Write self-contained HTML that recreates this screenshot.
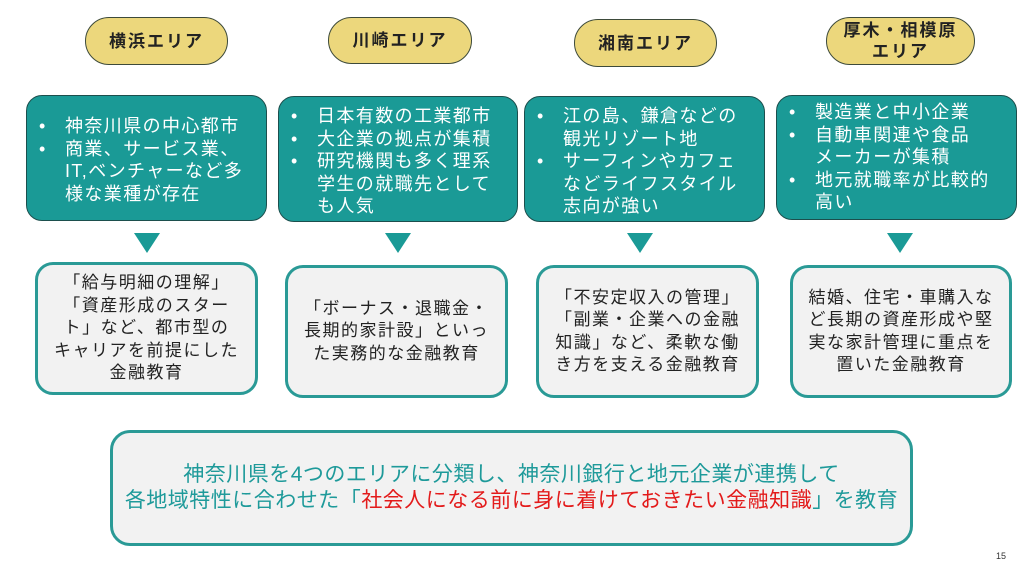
<!DOCTYPE html>
<html><head><meta charset="utf-8"><style>
body{margin:0;width:1024px;height:576px;background:#fff;position:relative;overflow:hidden;font-family:"Liberation Sans","Noto Sans CJK JP",sans-serif;}
.pill{position:absolute;background:#ecd77c;border:1.5px solid #3d4a3a;border-radius:26px;display:flex;align-items:center;justify-content:center;text-align:center;font-weight:bold;font-size:17px;color:#222;line-height:21px;letter-spacing:2px;box-sizing:border-box;white-space:nowrap}
.teal{position:absolute;background:#1a9a96;border:1.5px solid #1c4f4d;border-radius:16px;box-sizing:border-box;color:#fff;font-size:18px;line-height:22.5px;letter-spacing:1.4px;white-space:nowrap}
.teal ul{margin:0;padding:0;list-style:none}
.teal li{position:relative;padding-left:38px}
.teal li:before{content:"•";position:absolute;left:12px;top:0}
.tri{position:absolute;width:0;height:0;border-left:13px solid transparent;border-right:13px solid transparent;border-top:20px solid #1a9a96}
.wb{position:absolute;background:#f2f2f2;border:3px solid #2a9a96;border-radius:18px;box-sizing:border-box;display:flex;align-items:center;justify-content:center;text-align:center;color:#222;font-size:17px;line-height:22.5px;letter-spacing:1.5px;white-space:nowrap}
</style></head><body>
<div class="pill" style="left:85px;top:17px;width:143px;height:48px">横浜エリア</div>
<div class="pill" style="left:328px;top:17px;width:144px;height:47px">川崎エリア</div>
<div class="pill" style="left:574px;top:19px;width:143px;height:48px">湘南エリア</div>
<div class="pill" style="left:826px;top:17px;width:149px;height:48px">厚木・相模原<br>エリア</div>

<div class="teal" style="left:26px;top:95px;width:241px;height:126px;padding-top:19px"><ul><li>神奈川県の中心都市</li><li>商業、サービス業、<br>IT,ベンチャーなど多<br>様な業種が存在</li></ul></div>
<div class="teal" style="left:278px;top:96px;width:240px;height:126px;padding-top:8px"><ul><li>日本有数の工業都市</li><li>大企業の拠点が集積</li><li>研究機関も多く理系<br>学生の就職先として<br>も人気</li></ul></div>
<div class="teal" style="left:524px;top:96px;width:241px;height:126px;padding-top:8px"><ul><li>江の島、鎌倉などの<br>観光リゾート地</li><li>サーフィンやカフェ<br>などライフスタイル<br>志向が強い</li></ul></div>
<div class="teal" style="left:776px;top:95px;width:241px;height:125px;padding-top:5px"><ul><li>製造業と中小企業</li><li>自動車関連や食品<br>メーカーが集積</li><li>地元就職率が比較的<br>高い</li></ul></div>

<div class="tri" style="left:134px;top:233px"></div>
<div class="tri" style="left:385px;top:233px"></div>
<div class="tri" style="left:627px;top:233px"></div>
<div class="tri" style="left:887px;top:233px"></div>

<div class="wb" style="left:35px;top:262px;width:223px;height:133px">「給与明細の理解」<br>「資産形成のスター<br>ト」など、都市型の<br>キャリアを前提にした<br>金融教育</div>
<div class="wb" style="left:285px;top:265px;width:223px;height:133px">「ボーナス・退職金・<br>長期的家計設」といっ<br>た実務的な金融教育</div>
<div class="wb" style="left:536px;top:265px;width:223px;height:133px">「不安定収入の管理」<br>「副業・企業への金融<br>知識」など、柔軟な働<br>き方を支える金融教育</div>
<div class="wb" style="left:790px;top:265px;width:222px;height:133px">結婚、住宅・車購入な<br>ど長期の資産形成や堅<br>実な家計管理に重点を<br>置いた金融教育</div>

<div class="wb" style="left:110px;top:430px;width:803px;height:116px;font-size:21px;line-height:26px;letter-spacing:0.5px;color:#1e9a9a;border-radius:20px">
<div>神奈川県を4つのエリアに分類し、神奈川銀行と地元企業が連携して<br>各地域特性に合わせた「<span style="color:#e31b1b">社会人になる前に身に着けておきたい金融知識</span>」を教育</div></div>
<div style="position:absolute;left:996px;top:551px;font-size:9px;color:#333">15</div>
</body></html>
